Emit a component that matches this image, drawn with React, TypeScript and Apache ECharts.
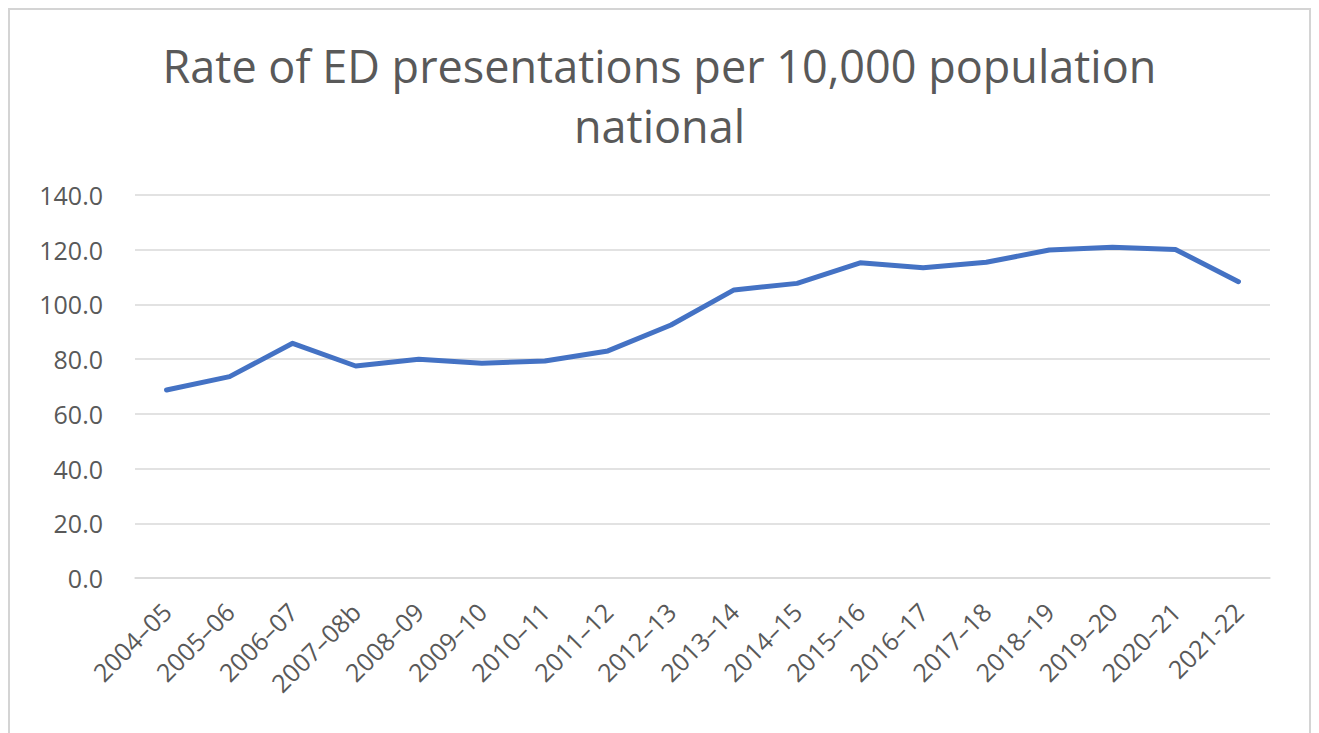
import React, { useEffect, useRef } from "react";
import * as echarts from "echarts";

const titleLines = ["Rate of ED presentations per 10,000 population", "national"];
const categories = [
  "2004–05", "2005–06", "2006–07", "2007–08b", "2008–09", "2009–10",
  "2010–11", "2011–12", "2012–13", "2013–14", "2014–15", "2015–16",
  "2016–17", "2017–18", "2018–19", "2019–20", "2020–21", "2021-22",
];
const rates = [
  68.7, 73.6, 85.8, 77.5, 80.0, 78.5, 79.3, 83.0, 92.5,
  105.3, 107.7, 115.2, 113.4, 115.4, 119.9, 120.9, 120.1, 108.3,
];
const yMin = 0;
const yMax = 140;
const yStep = 20;

export default function App() {
  const ref = useRef<HTMLDivElement>(null);
  useEffect(() => {
    if (!ref.current) return;
    const chart = echarts.init(ref.current, undefined, { renderer: "svg" });
    const font = "'Open Sans', sans-serif";
    chart.setOption({
      animation: false,
      backgroundColor: "#ffffff",
      graphic: [
        {
          type: "rect",
          shape: { x: 1, y: 1, width: 1301, height: 800 },
          style: { fill: "none", stroke: "#d4d4d4", lineWidth: 2 },
          silent: true,
        },
      ],
      title: {
        text: titleLines.join("\n"),
        left: "center",
        top: 22,
        textStyle: {
          fontFamily: font,
          fontSize: 45,
          fontWeight: "normal",
          color: "#595959",
          lineHeight: 60,
          align: "center",
        },
      },
      grid: {
        left: 127,
        right: 41,
        top: 187,
        bottom: 155,
        containLabel: false,
        outerBoundsMode: "none",
      },
      xAxis: {
        type: "category",
        data: categories,
        boundaryGap: true,
        axisLine: { show: true, lineStyle: { color: "#d9d9d9", width: 1.5 } },
        axisTick: { show: false },
        axisLabel: {
          interval: 0,
          rotate: 45,
          margin: 29,
          fontFamily: font,
          fontSize: 25,
          color: "#595959",
        },
      },
      yAxis: {
        type: "value",
        min: yMin,
        max: yMax,
        interval: yStep,
        axisLine: { show: false },
        axisTick: { show: false },
        splitLine: { show: true, lineStyle: { color: "#d9d9d9", width: 1.5 } },
        axisLabel: {
          margin: 32,
          fontFamily: font,
          fontSize: 25,
          color: "#595959",
          formatter: (v: number) => v.toFixed(1),
        },
      },
      series: [
        {
          type: "line",
          data: rates,
          showSymbol: false,
          symbol: "none",
          lineStyle: { color: "#4472C4", width: 5, cap: "round", join: "round" },
          itemStyle: { color: "#4472C4" },
        },
      ],
    });
    return () => chart.dispose();
  }, []);
  return <div ref={ref} style={{ width: 1303, height: 725 }} />;
}
